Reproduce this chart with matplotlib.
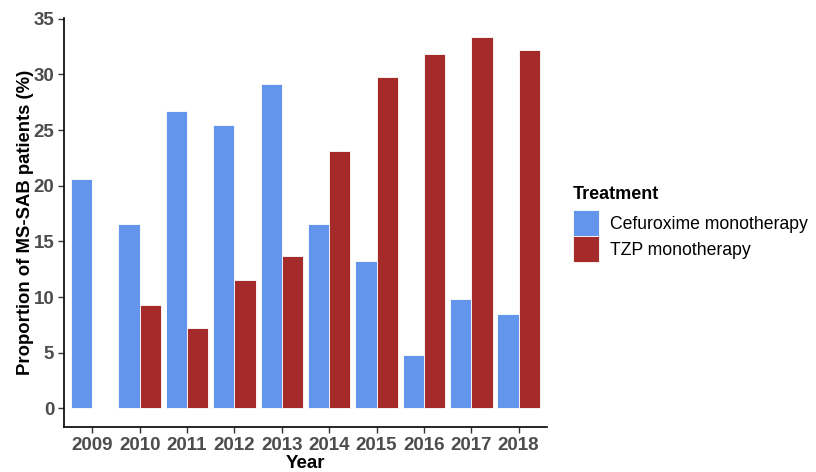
import matplotlib.pyplot as plt
import numpy as np

plt.rcParams['font.family'] = ['Liberation Sans', 'DejaVu Sans']

years = ['2009', '2010', '2011', '2012', '2013', '2014', '2015', '2016', '2017', '2018']
cefuroxime = [20.6, 16.6, 26.7, 25.5, 29.1, 16.6, 13.2, 4.8, 9.8, 8.5]
tzp = [0.0, 9.3, 7.2, 11.5, 13.7, 23.1, 29.8, 31.8, 33.4, 32.2]
series_names = ['Cefuroxime monotherapy', 'TZP monotherapy']
colours = ['#6495ED', '#A52A2A']

fig = plt.figure(figsize=(8.16, 4.72), dpi=100)
# panel placed to match the reference pixel layout
ax = fig.add_axes([64/816, 1-427/472, (547-64)/816, (427-18)/472])

x = np.arange(len(years))
w = 0.45
ax.bar(x - w/2, cefuroxime, width=w, color=colours[0], edgecolor='white', linewidth=0.6, label=series_names[0])
ax.bar(x + w/2, tzp, width=w, color=colours[1], edgecolor='white', linewidth=0.6, label=series_names[1])

top = max(max(cefuroxime), max(tzp))
ax.set_xlim(-0.6, len(years) - 0.4)
ax.set_ylim(-0.05*top, top*1.05)
ax.set_yticks(np.arange(0, 36, 5))
ax.set_xticks(x)
ax.set_xticklabels(years)

for s in ['top', 'right']:
    ax.spines[s].set_visible(False)
for s in ['left', 'bottom']:
    ax.spines[s].set_linewidth(1.2)
    ax.spines[s].set_color('black')

ax.tick_params(axis='both', length=4, width=1.0, color='#333333', labelsize=13.5, labelcolor='#4D4D4D', pad=3)
for lab in ax.get_xticklabels() + ax.get_yticklabels():
    lab.set_fontweight('bold')

ax.set_xlabel('Year', fontsize=13.5, fontweight='bold', labelpad=1)
ax.set_ylabel('Proportion of MS-SAB patients (%)', fontsize=13.3, fontweight='bold', labelpad=0)

leg = ax.legend(loc='upper left', bbox_to_anchor=(557/816, 1-170/472), bbox_transform=fig.transFigure,
                frameon=False, fontsize=12.7, title='Treatment', title_fontproperties={'weight': 'bold', 'size': 13},
                handlelength=1.5, handleheight=1.9, handletextpad=0.6, labelspacing=0.0)
leg._legend_box.align = 'left'
leg._legend_box.sep = 5  # small gap under the title, like ggplot

fig.savefig('out.png', dpi=100)
